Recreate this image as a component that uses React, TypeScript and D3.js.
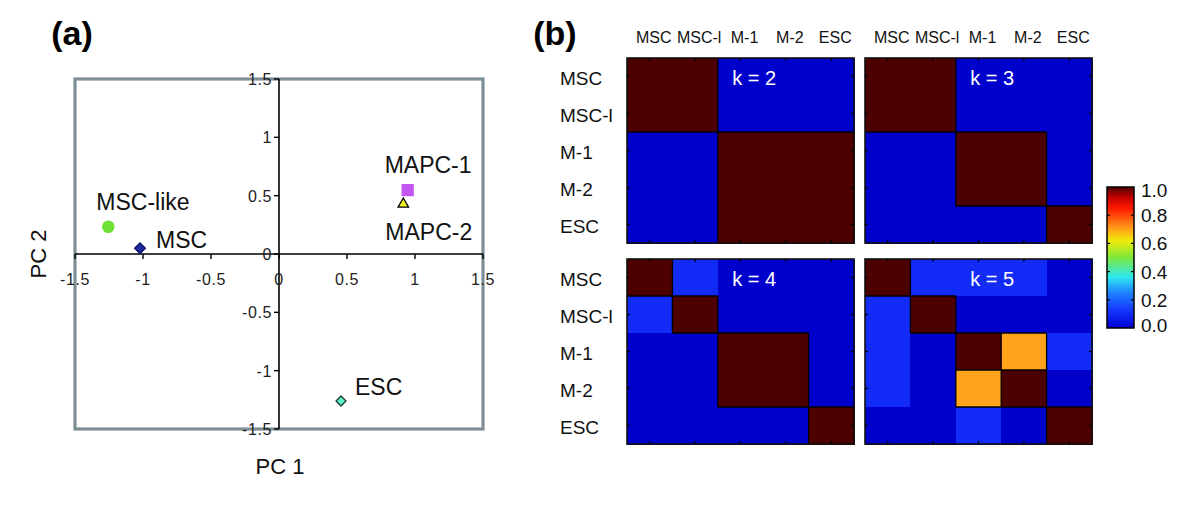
import React from 'react';
import * as d3 from 'd3';

// ---------- Panel (a) data ----------
const pcaNames = ['MSC-like', 'MSC', 'MAPC-1', 'MAPC-2', 'ESC'];
const pc1Values = [-1.255, -1.022, 0.946, 0.914, 0.456];
const pc2Values = [0.234, 0.049, 0.548, 0.428, -1.26];
const axisTickValues = [-1.5, -1, -0.5, 0, 0.5, 1, 1.5];
const axisTickLabels = ['-1.5', '-1', '-0.5', '0', '0.5', '1', '1.5'];

// ---------- Panel (b) data ----------
const cellTypes = ['MSC', 'MSC-l', 'M-1', 'M-2', 'ESC'];
const kValues = [2, 3, 4, 5];
const consensusK2 = [
  [1, 1, 0, 0, 0],
  [1, 1, 0, 0, 0],
  [0, 0, 1, 1, 1],
  [0, 0, 1, 1, 1],
  [0, 0, 1, 1, 1],
];
const consensusK3 = [
  [1, 1, 0, 0, 0],
  [1, 1, 0, 0, 0],
  [0, 0, 1, 1, 0],
  [0, 0, 1, 1, 0],
  [0, 0, 0, 0, 1],
];
const consensusK4 = [
  [1, 0.1, 0, 0, 0],
  [0.1, 1, 0, 0, 0],
  [0, 0, 1, 1, 0],
  [0, 0, 1, 1, 0],
  [0, 0, 0, 0, 1],
];
const consensusK5 = [
  [1, 0.1, 0.1, 0.1, 0],
  [0.1, 1, 0, 0, 0],
  [0.1, 0, 1, 0.7, 0.1],
  [0.1, 0, 0.7, 1, 0],
  [0, 0, 0.1, 0, 1],
];
const colorbarTickValues = [0, 0.2, 0.4, 0.6, 0.8, 1.0];
const colorbarTickLabels = ['0.0', '0.2', '0.4', '0.6', '0.8', '1.0'];

// ---------- styles / layout (not data) ----------
const FONT = '"Liberation Sans", Arial, Helvetica, sans-serif';
const markerStyles: Record<string, { type: string; size: number; fill: string; stroke: string; rotate: number }> = {
  'MSC-like': { type: 'circle', size: 100, fill: '#6fe034', stroke: '#6fe034', rotate: 0 },
  MSC: { type: 'square', size: 58, fill: '#1c2a9c', stroke: '#0c1466', rotate: 45 },
  'MAPC-1': { type: 'square', size: 120, fill: '#c256f0', stroke: '#c256f0', rotate: 0 },
  'MAPC-2': { type: 'triangle', size: 48, fill: '#f2f020', stroke: '#000', rotate: 0 },
  ESC: { type: 'square', size: 50, fill: '#5ef0cc', stroke: '#1e3a30', rotate: 45 },
};
const labelOffsets: Record<string, [number, number]> = {
  'MSC-like': [-12, -17],
  MSC: [16, 0],
  'MAPC-1': [-23, -17],
  'MAPC-2': [-18, 36],
  ESC: [14, -6],
};

const cmapStops: [number, string][] = [
  [0.0, 'rgb(0,0,205)'],
  [0.12, 'rgb(22,52,255)'],
  [0.25, 'rgb(30,130,255)'],
  [0.36, 'rgb(45,232,240)'],
  [0.5, 'rgb(125,232,60)'],
  [0.62, 'rgb(240,235,10)'],
  [0.7, 'rgb(255,163,26)'],
  [0.85, 'rgb(255,25,0)'],
  [0.93, 'rgb(190,0,0)'],
  [1.0, 'rgb(77,0,0)'],
];
const cmap = d3
  .scaleLinear<string>()
  .domain(cmapStops.map((d) => d[0]))
  .range(cmapStops.map((d) => d[1]))
  .interpolate(d3.interpolateRgb)
  .clamp(true);

function symbolPath(type: string, size: number) {
  const t = type === 'circle' ? d3.symbolCircle : type === 'triangle' ? d3.symbolTriangle : d3.symbolSquare;
  return d3.symbol().type(t).size(size)() as string;
}

function PcaPanel() {
  const x = d3.scaleLinear().domain([-1.5, 1.5]).range([75, 483]);
  const y = d3.scaleLinear().domain([-1.5, 1.5]).range([429, 79]);
  const x0 = x(0);
  const y0 = y(0);
  return (
    <g fontFamily={FONT}>
      <text x={72} y={45} fontSize={34} fontWeight="bold" textAnchor="middle">(a)</text>
      <rect x={x(-1.5)} y={y(1.5)} width={x(1.5) - x(-1.5)} height={y(-1.5) - y(1.5)} fill="none" stroke="#7d8e96" strokeWidth={3.2} />
      <line x1={x(-1.5)} x2={x(1.5)} y1={y0} y2={y0} stroke="#000" strokeWidth={1.6} />
      <line x1={x0} x2={x0} y1={y(1.5)} y2={y(-1.5)} stroke="#000" strokeWidth={1.6} />
      {axisTickValues.map((v, i) => (
        <g key={'xt' + i}>
          <line x1={x(v)} x2={x(v)} y1={y0} y2={y0 + 5} stroke="#000" strokeWidth={1.4} />
          <text x={x(v)} y={y0 + 31} fontSize={16} letterSpacing={0.6} textAnchor="middle" fill="#222">{axisTickLabels[i]}</text>
        </g>
      ))}
      {axisTickValues.map((v, i) => (
        <g key={'yt' + i}>
          <line x1={x0 - 5} x2={x0} y1={y(v)} y2={y(v)} stroke="#000" strokeWidth={1.4} />
          <text x={x0 - 7} y={y(v) + 6} fontSize={16} letterSpacing={0.6} textAnchor="end" fill="#222">{axisTickLabels[i]}</text>
        </g>
      ))}
      {pcaNames.map((name, i) => {
        const st = markerStyles[name];
        const px = x(pc1Values[i]);
        const py = y(pc2Values[i]);
        const off = labelOffsets[name];
        return (
          <g key={name}>
            <path
              d={symbolPath(st.type, st.size)}
              transform={`translate(${px},${py}) rotate(${st.rotate})`}
              fill={st.fill}
              stroke={st.stroke}
              strokeWidth={1.3}
            />
            <text x={px + off[0]} y={py + off[1]} fontSize={23} fill="#111">{name}</text>
          </g>
        );
      })}
      <text x={280} y={474} fontSize={22} textAnchor="middle" fill="#111">PC 1</text>
      <text transform="translate(46,254) rotate(-90)" fontSize={22} textAnchor="middle" fill="#111">PC 2</text>
    </g>
  );
}

function Heatmap({ data, k, x0, y0, w, h }: { data: number[][]; k: number; x0: number; y0: number; w: number; h: number }) {
  const xb = d3.scaleBand<string>().domain(cellTypes).range([x0, x0 + w]);
  const yb = d3.scaleBand<string>().domain(cellTypes).range([y0, y0 + h]);
  const bw = xb.bandwidth();
  const bh = yb.bandwidth();
  const edges: { x1: number; y1: number; x2: number; y2: number }[] = [];
  const n = cellTypes.length;
  for (let r = 0; r < n; r++) {
    for (let c = 0; c < n; c++) {
      const v = data[r][c];
      if (c + 1 < n) {
        const v2 = data[r][c + 1];
        if (v !== v2 && Math.max(v, v2) >= 0.5) {
          const xx = xb(cellTypes[c + 1])!;
          edges.push({ x1: xx, x2: xx, y1: yb(cellTypes[r])!, y2: yb(cellTypes[r])! + bh });
        }
      }
      if (r + 1 < n) {
        const v2 = data[r + 1][c];
        if (v !== v2 && Math.max(v, v2) >= 0.5) {
          const yy = yb(cellTypes[r + 1])!;
          edges.push({ x1: xb(cellTypes[c])!, x2: xb(cellTypes[c])! + bw, y1: yy, y2: yy });
        }
      }
    }
  }
  return (
    <g>
      {data.map((row, r) =>
        row.map((v, c) => (
          <rect
            key={r + '-' + c}
            x={xb(cellTypes[c])!}
            y={yb(cellTypes[r])!}
            width={bw + 1}
            height={bh + 1}
            fill={cmap(v)}
            shapeRendering="crispEdges"
          />
        ))
      )}
      {edges.map((e, i) => (
        <line key={'e' + i} {...e} stroke="#000" strokeWidth={1.3} />
      ))}
      <rect x={x0} y={y0} width={w} height={h} fill="none" stroke="#111" strokeWidth={1.6} />
      {cellTypes.map((c) => (
        <g key={'t' + c}>
          <line x1={xb(c)! + bw / 2} x2={xb(c)! + bw / 2} y1={y0} y2={y0 + 3} stroke="#000" strokeWidth={1.2} />
          <line x1={xb(c)! + bw / 2} x2={xb(c)! + bw / 2} y1={y0 + h} y2={y0 + h - 3} stroke="#000" strokeWidth={1.2} />
          <line x1={x0} x2={x0 + 3} y1={yb(c)! + bh / 2} y2={yb(c)! + bh / 2} stroke="#000" strokeWidth={1.2} />
          <line x1={x0 + w} x2={x0 + w - 3} y1={yb(c)! + bh / 2} y2={yb(c)! + bh / 2} stroke="#000" strokeWidth={1.2} />
        </g>
      ))}
      <text x={x0 + w * 0.56} y={y0 + 27} fontSize={20} fill="#fff" textAnchor="middle" fontFamily={FONT}>
        {`k = ${k}`}
      </text>
    </g>
  );
}

function ConsensusPanel() {
  const matrices = [consensusK2, consensusK3, consensusK4, consensusK5];
  const colX = [627, 865];
  const rowY = [58, 259];
  const W = 227;
  const H = 185;
  const cb = { x: 1107, w: 27 };
  const cbY = d3.scaleLinear().domain([0, 1]).range([328, 187]);
  const gradStops = d3.range(0, 1.0001, 0.02);
  const rowBand = (y0: number) => d3.scaleBand<string>().domain(cellTypes).range([y0, y0 + H]);
  const colBand = (x0: number) => d3.scaleBand<string>().domain(cellTypes).range([x0, x0 + W]);
  return (
    <g fontFamily={FONT}>
      <defs>
        <linearGradient id="cbgrad" x1="0" y1="1" x2="0" y2="0">
          {gradStops.map((t) => (
            <stop key={t} offset={t} stopColor={cmap(t)} />
          ))}
        </linearGradient>
      </defs>
      <text x={555} y={45} fontSize={34} fontWeight="bold" textAnchor="middle">(b)</text>
      {colX.map((x0, ci) =>
        cellTypes.map((c) => (
          <text
            key={'cl' + ci + c}
            x={colBand(x0)(c)! + colBand(x0).bandwidth() / 2 + 4}
            y={43}
            fontSize={16}
            textAnchor="middle"
            fill="#111"
          >
            {c}
          </text>
        ))
      )}
      {rowY.map((y0, ri) =>
        cellTypes.map((c) => (
          <text key={'rl' + ri + c} x={560} y={rowBand(y0)(c)! + rowBand(y0).bandwidth() / 2 + 8} fontSize={19} fill="#111">
            {c}
          </text>
        ))
      )}
      {matrices.map((m, i) => (
        <Heatmap key={i} data={m} k={kValues[i]} x0={colX[i % 2]} y0={rowY[Math.floor(i / 2)]} w={W} h={H} />
      ))}
      <rect x={cb.x} y={cbY(1)} width={cb.w} height={cbY(0) - cbY(1)} fill="url(#cbgrad)" stroke="#000" strokeWidth={1.5} />
      {colorbarTickValues.map((v, i) => (
        <g key={'cb' + i}>
          {v > 0 && v < 1 && (
            <>
              <line x1={cb.x} x2={cb.x + 3} y1={cbY(v)} y2={cbY(v)} stroke="#000" strokeWidth={1.2} />
              <line x1={cb.x + cb.w} x2={cb.x + cb.w - 3} y1={cbY(v)} y2={cbY(v)} stroke="#000" strokeWidth={1.2} />
            </>
          )}
          <text x={cb.x + cb.w + 7} y={cbY(v) + 7 + (v === 1 ? 3 : v === 0 ? -3 : 0)} fontSize={19} fill="#111">
            {colorbarTickLabels[i]}
          </text>
        </g>
      ))}
    </g>
  );
}

export default function App() {
  return (
    <div style={{ position: 'absolute', left: 0, top: 0 }}>
      <svg width={1200} height={505} viewBox="0 0 1200 505" style={{ display: 'block', background: '#fff' }}>
        <rect x={0} y={0} width={1200} height={505} fill="#fff" />
        <PcaPanel />
        <ConsensusPanel />
      </svg>
    </div>
  );
}
